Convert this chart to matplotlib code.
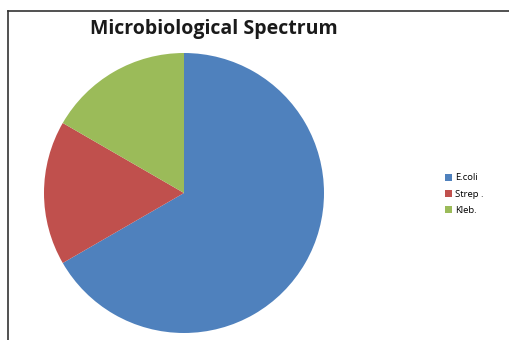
import matplotlib
matplotlib.use("Agg")
import matplotlib.pyplot as plt
from matplotlib.lines import Line2D
from matplotlib.patches import Patch

# Isolated organisms
organisms = ["E.coli", "Strep .", "Kleb."]
cases = [8, 2, 2]
colors = ["#4F81BD", "#C0504D", "#9BBB59"]

W, H = 509, 340
fig = plt.figure(figsize=(W / 100, H / 100), dpi=100)
fig.patch.set_facecolor("white")

# Chart frame (left and top edges)
fig.add_artist(Line2D([8 / W, 8 / W], [0, 1 - 11 / H], transform=fig.transFigure,
                      color="#333333", lw=1.2))
fig.add_artist(Line2D([8 / W, 1], [1 - 11 / H, 1 - 11 / H], transform=fig.transFigure,
                      color="#333333", lw=1.2))

# Pie area
cx, cy, r = 184, 193, 140
ax = fig.add_axes([(cx - r) / W, 1 - (cy + r) / H, 2 * r / W, 2 * r / H])
ax.pie(cases, colors=colors, startangle=90, counterclock=False,
       wedgeprops=dict(linewidth=0))
ax.set_aspect("equal")
ax.set_xlim(-1, 1)
ax.set_ylim(-1, 1)
ax.axis("off")

fig.text(214 / W, 1 - 29 / H, "Microbiological Spectrum", ha="center", va="center",
         fontsize=14, fontweight="bold", family="Open Sans", color="#1a1a1a")

handles = [Patch(facecolor=c, edgecolor="none") for c in colors]
fig.legend(handles, organisms, loc="center left", bbox_to_anchor=(440 / W, 1 - 194 / H),
           frameon=False, handlelength=0.75, handleheight=0.75,
           handletextpad=0.3, labelspacing=0.75, borderpad=0,
           prop={"family": "Open Sans", "size": 6.8})

fig.savefig("out.png", dpi=100)
